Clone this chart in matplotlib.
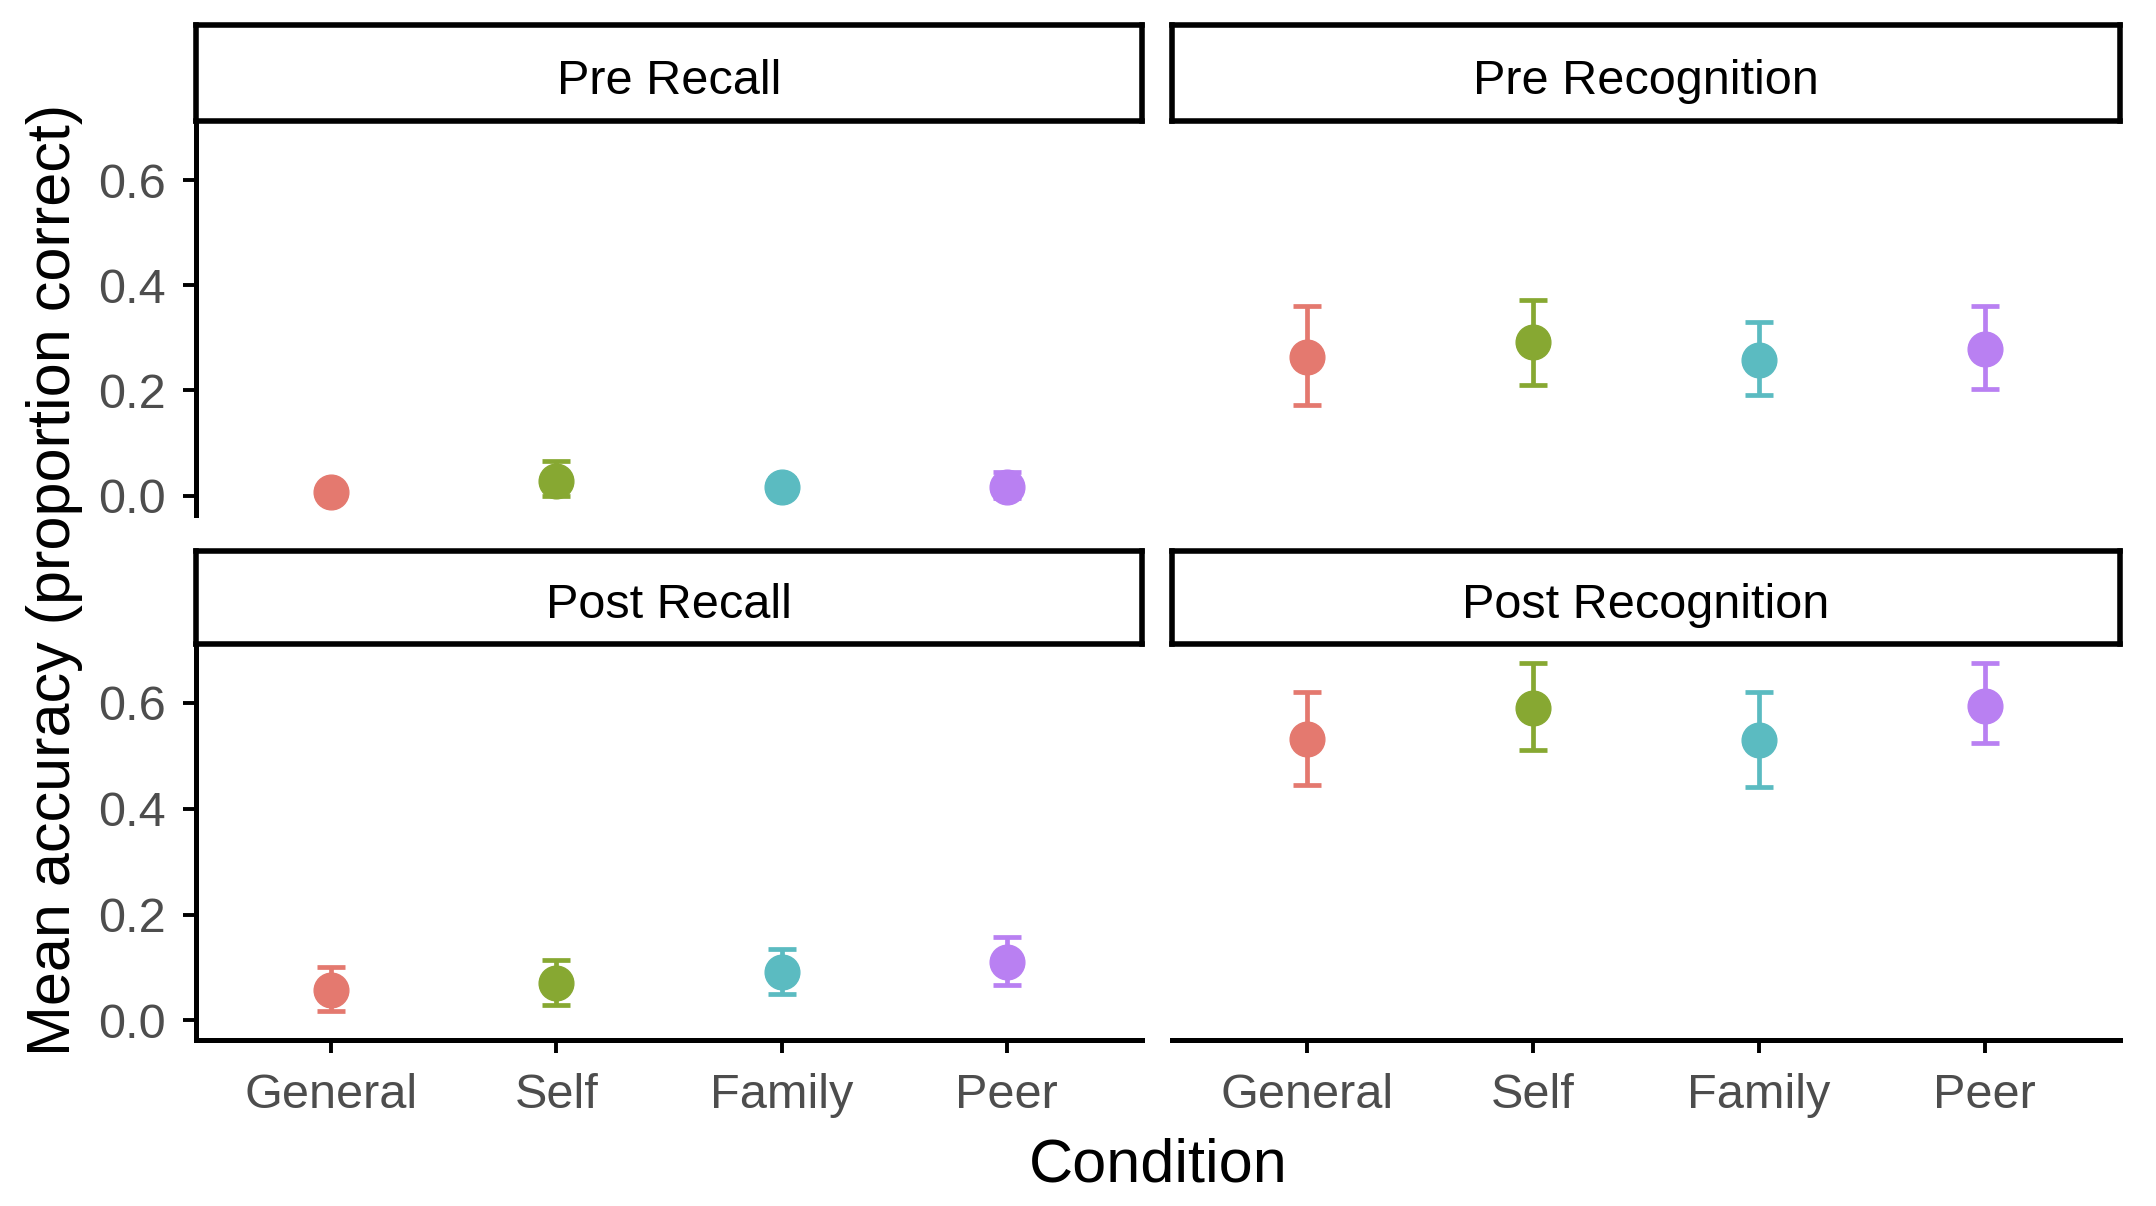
import numpy as np
import matplotlib
matplotlib.use("Agg")
import matplotlib.pyplot as plt

plt.rcParams['font.family'] = ['Liberation Sans', 'DejaVu Sans']

conditions = ['General', 'Self', 'Family', 'Peer']
colors = ['#E4796F', '#87A832', '#5BBBC1', '#B980F2']
panel_titles = ['Pre Recall', 'Pre Recognition', 'Post Recall', 'Post Recognition']

# means and error bar limits
pre_recall_mean = [0.007, 0.028, 0.017, 0.017]
pre_recall_lo = [-0.003, -0.001, 0.002, -0.005]
pre_recall_hi = [0.017, 0.066, 0.034, 0.045]

pre_recog_mean = [0.263, 0.292, 0.258, 0.279]
pre_recog_lo = [0.172, 0.211, 0.191, 0.202]
pre_recog_hi = [0.360, 0.373, 0.330, 0.360]

post_recall_mean = [0.058, 0.071, 0.091, 0.111]
post_recall_lo = [0.018, 0.030, 0.049, 0.067]
post_recall_hi = [0.100, 0.115, 0.134, 0.158]

post_recog_mean = [0.531, 0.590, 0.529, 0.593]
post_recog_lo = [0.445, 0.511, 0.440, 0.524]
post_recog_hi = [0.620, 0.675, 0.620, 0.675]

means = [pre_recall_mean, pre_recog_mean, post_recall_mean, post_recog_mean]
lows = [pre_recall_lo, pre_recog_lo, post_recall_lo, post_recog_lo]
highs = [pre_recall_hi, pre_recog_hi, post_recall_hi, post_recog_hi]

W, H = 2156, 1206
fig = plt.figure(figsize=(W / 100, H / 100), dpi=100)

def rect(x0, y0, x1, y1):
    # pixel box (top-left origin) -> figure fraction
    return [x0 / W, 1 - y1 / H, (x1 - x0) / W, (y1 - y0) / H]

cols = [(196, 1142), (1172, 2120)]
rows = [(25, 121, 123, 515), (551, 644, 645, 1040)]

x = np.arange(1, 5)
for i in range(4):
    r, c = divmod(i, 2)
    sx0, sx1 = cols[c]
    st0, st1, p0, p1 = rows[r]

    ax = fig.add_axes(rect(sx0, p0, sx1, p1))
    for k in range(4):
        m = means[i][k]
        err = [[m - lows[i][k]], [highs[i][k] - m]]
        ax.errorbar(x[k], m, yerr=err, fmt='o', color=colors[k], ms=25,
                    elinewidth=3.4, capsize=10, capthick=3.4)
    ax.set_xlim(0.4, 4.6)
    ax.set_ylim(-0.037, 0.709)
    for s in ['top', 'right']:
        ax.spines[s].set_visible(False)
    ax.spines['left'].set_linewidth(3.6)
    ax.spines['bottom'].set_linewidth(3.6)
    ax.tick_params(width=2.8, length=9.5, labelsize=35, labelcolor='#4D4D4D')
    ax.tick_params(axis='y', pad=12)
    ax.tick_params(axis='x', pad=14)
    ax.set_yticks([0.0, 0.2, 0.4, 0.6])
    ax.set_yticklabels(['0.0', '0.2', '0.4', '0.6'])
    ax.set_xticks(x)
    ax.set_xticklabels(conditions)
    if c == 1:
        ax.spines['left'].set_visible(False)
        ax.tick_params(axis='y', left=False, labelleft=False)
    if r == 0:
        ax.spines['bottom'].set_visible(False)
        ax.tick_params(axis='x', bottom=False, labelbottom=False)

    sax = fig.add_axes(rect(sx0, st0, sx1, st1))
    sax.set_xticks([])
    sax.set_yticks([])
    for s in sax.spines.values():
        s.set_linewidth(4.0)
    sax.text(0.5, 0.41, panel_titles[i], ha='center', va='center', fontsize=35,
             color='black', transform=sax.transAxes)

fig.text(55 / W, 1 - 580 / H, 'Mean accuracy (proportion correct)', rotation=90,
         ha='center', va='center', fontsize=44)
fig.text(1158 / W, 1 - 1166 / H, 'Condition', ha='center', va='center', fontsize=44)

fig.savefig('out.png', dpi=100, facecolor='white')
